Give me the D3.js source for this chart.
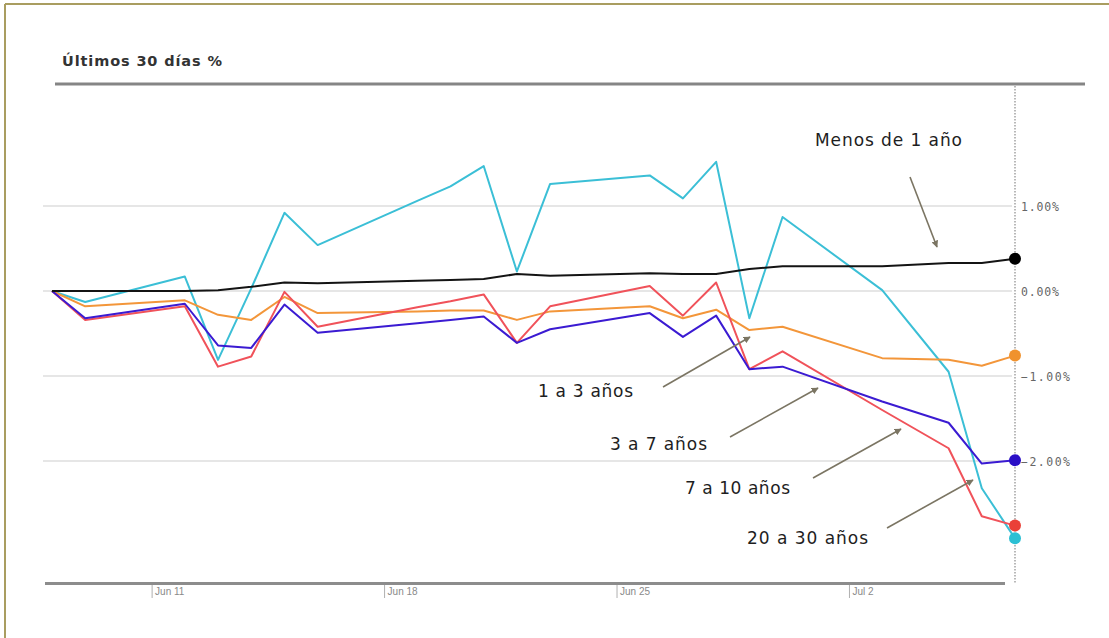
<!DOCTYPE html>
<html><head><meta charset="utf-8">
<script src="https://cdn.jsdelivr.net/npm/d3@7"></script>
<style>body{margin:0;background:#fff} svg{display:block}</style>
</head><body><svg id="c" width="1109" height="638"></svg>
<script>
// ---- data ----
const title = "Últimos 30 días %";
const dates = ["2017-06-08","2017-06-09","2017-06-12","2017-06-13","2017-06-14","2017-06-15","2017-06-16",
  "2017-06-19","2017-06-20","2017-06-21","2017-06-22","2017-06-23","2017-06-26","2017-06-27","2017-06-28",
  "2017-06-29","2017-06-30","2017-07-03","2017-07-05","2017-07-06","2017-07-07"];
const seriesNames = ["20 a 30 años","1 a 3 años","7 a 10 años","3 a 7 años","Menos de 1 año"];
const menos1 = [0,0.00,0.00,0.01,0.05,0.10,0.09,0.12,0.13,0.14,0.20,0.18,0.21,0.20,0.20,0.26,0.29,0.29,0.33,0.33,0.38];
const a1a3 = [0,-0.18,-0.11,-0.28,-0.34,-0.07,-0.26,-0.24,-0.23,-0.23,-0.34,-0.24,-0.18,-0.32,-0.22,-0.46,-0.42,-0.79,-0.81,-0.88,-0.76];
const a3a7 = [0,-0.32,-0.15,-0.64,-0.67,-0.16,-0.49,-0.38,-0.34,-0.30,-0.61,-0.45,-0.26,-0.54,-0.29,-0.92,-0.89,-1.30,-1.55,-2.03,-1.99];
const a7a10 = [0,-0.34,-0.18,-0.89,-0.77,-0.01,-0.42,-0.19,-0.12,-0.04,-0.61,-0.18,0.06,-0.29,0.10,-0.92,-0.71,-1.40,-1.85,-2.65,-2.76];
const a20a30 = [0,-0.13,0.17,-0.81,0.03,0.92,0.54,1.06,1.23,1.47,0.23,1.26,1.36,1.09,1.52,-0.32,0.87,0.01,-0.95,-2.32,-2.91];
const yTicks = [1,0,-1,-2];
const xTicks = ["2017-06-11","2017-06-18","2017-06-25","2017-07-02"];

// ---- styles / layout ----
const colors = {"20 a 30 años":"#3bbfd6","1 a 3 años":"#f3963a","7 a 10 años":"#f0525a","3 a 7 años":"#3b1bd2","Menos de 1 año":"#141414"};
const dotColors = {"20 a 30 años":"#2cc0d4","1 a 3 años":"#f0922e","7 a 10 años":"#ea4038","3 a 7 años":"#2a0fc6","Menos de 1 año":"#000"};
const values = {"20 a 30 años":a20a30,"1 a 3 años":a1a3,"7 a 10 años":a7a10,"3 a 7 años":a3a7,"Menos de 1 año":menos1};
const annot = [
  {name:"Menos de 1 año", tx:815, ty:146, tw:147, x1:910, y1:177, x2:937, y2:247},
  {name:"1 a 3 años", tx:538, ty:397, tw:95, x1:663, y1:387, x2:750, y2:337},
  {name:"3 a 7 años", tx:610, ty:450, tw:97, x1:730, y1:437, x2:818, y2:388},
  {name:"7 a 10 años", tx:685, ty:494, tw:105, x1:813, y1:478, x2:901, y2:429},
  {name:"20 a 30 años", tx:747, ty:544, tw:121, x1:887, y1:528, x2:973, y2:480}
];

const parse = d3.timeParse("%Y-%m-%d");
const svg = d3.select("#c");
const x = d3.scaleTime().domain([parse(dates[0]), parse(dates[dates.length-1])]).range([52,1015]);
const y = d3.scaleLinear().domain([-2,1]).range([461,206]);

svg.append("rect").attr("width",1109).attr("height",638).attr("fill","#fff");
// frame (top/left)
svg.append("line").attr("x1",5).attr("x2",1109).attr("y1",4).attr("y2",4).attr("stroke","#a99d60").attr("stroke-width",2);
svg.append("line").attr("x1",5).attr("x2",5).attr("y1",4).attr("y2",638).attr("stroke","#a99d60").attr("stroke-width",2);

// title
svg.append("text").attr("x",62).attr("y",66).text(title)
  .attr("font-family","DejaVu Sans, sans-serif").attr("font-size",14.5).attr("font-weight","bold")
  .attr("fill","#333").attr("textLength",160).attr("lengthAdjust","spacing");

// grid
svg.append("g").selectAll("line").data(yTicks).join("line")
  .attr("x1",43).attr("x2",1012).attr("y1",d=>y(d)).attr("y2",d=>y(d))
  .attr("stroke","#e6e6e6").attr("stroke-width",2);

// top & bottom rules
svg.append("line").attr("x1",55).attr("x2",1085).attr("y1",84).attr("y2",84).attr("stroke","#858585").attr("stroke-width",3);
svg.append("line").attr("x1",45).attr("x2",1005).attr("y1",583.5).attr("y2",583.5).attr("stroke","#8c8c8c").attr("stroke-width",3);

// vertical dotted line at last date
svg.append("line").attr("x1",x(parse(dates[dates.length-1]))).attr("x2",x(parse(dates[dates.length-1])))
  .attr("y1",86).attr("y2",584).attr("stroke","#8a8a8a").attr("stroke-width",1.2).attr("stroke-dasharray","1.5,1.5");

// y labels
svg.append("g").selectAll("text").data(yTicks).join("text")
  .attr("x",1021).attr("y",d=>y(d)+4.5).text(d=>d3.format(".2f")(d)+"%")
  .attr("font-family","DejaVu Sans Mono, monospace").attr("font-size",11.5).attr("fill","#666")
  .attr("textLength",d=>d<0?49:38).attr("lengthAdjust","spacing");

// x axis
const xa = svg.append("g").attr("transform","translate(0,585)")
  .call(d3.axisBottom(x).tickValues(xTicks.map(parse)).tickFormat(d3.timeFormat("%b %-d")).tickSize(13).tickPadding(0));
xa.select(".domain").remove();
xa.selectAll(".tick line").attr("stroke","#b0b0b0").attr("stroke-width",1);
xa.selectAll(".tick text").attr("text-anchor","start").attr("x",3).attr("y",3).attr("dy","0.71em")
  .attr("font-family","Liberation Sans, Arial, sans-serif").attr("font-size",10).attr("fill","#8a8a8a");

// lines
const line = d3.line().x((d,i)=>x(parse(dates[i]))).y(d=>y(d));
const drawOrder = ["20 a 30 años","1 a 3 años","7 a 10 años","3 a 7 años","Menos de 1 año"];
svg.append("g").selectAll("path").data(drawOrder).join("path")
  .attr("d",n=>line(values[n])).attr("fill","none").attr("stroke",n=>colors[n])
  .attr("stroke-width",2).attr("stroke-linejoin","round");

// end dots
const dotOrder = ["Menos de 1 año","1 a 3 años","3 a 7 años","20 a 30 años","7 a 10 años"];
svg.append("g").selectAll("circle").data(dotOrder).join("circle")
  .attr("cx",x(parse(dates[dates.length-1]))).attr("cy",n=>y(values[n][values[n].length-1]))
  .attr("r",6).attr("fill",n=>dotColors[n]);

// arrows
svg.append("defs").append("marker").attr("id","ah").attr("viewBox","0 0 10 10").attr("refX",9).attr("refY",5)
  .attr("markerWidth",7).attr("markerHeight",7).attr("markerUnits","userSpaceOnUse").attr("orient","auto")
  .append("path").attr("d","M0,0L10,5L0,10z").attr("fill","#7b7563");
svg.append("g").selectAll("line").data(annot).join("line")
  .attr("x1",d=>d.x1).attr("y1",d=>d.y1).attr("x2",d=>d.x2).attr("y2",d=>d.y2)
  .attr("stroke","#7b7563").attr("stroke-width",1.6).attr("marker-end","url(#ah)");
svg.append("g").selectAll("text").data(annot).join("text")
  .attr("x",d=>d.tx).attr("y",d=>d.ty).text(d=>d.name)
  .attr("font-family","DejaVu Sans, sans-serif").attr("font-size",17)
  .attr("fill","#1e1e1e").attr("textLength",d=>d.tw).attr("lengthAdjust","spacing");
</script></body></html>
